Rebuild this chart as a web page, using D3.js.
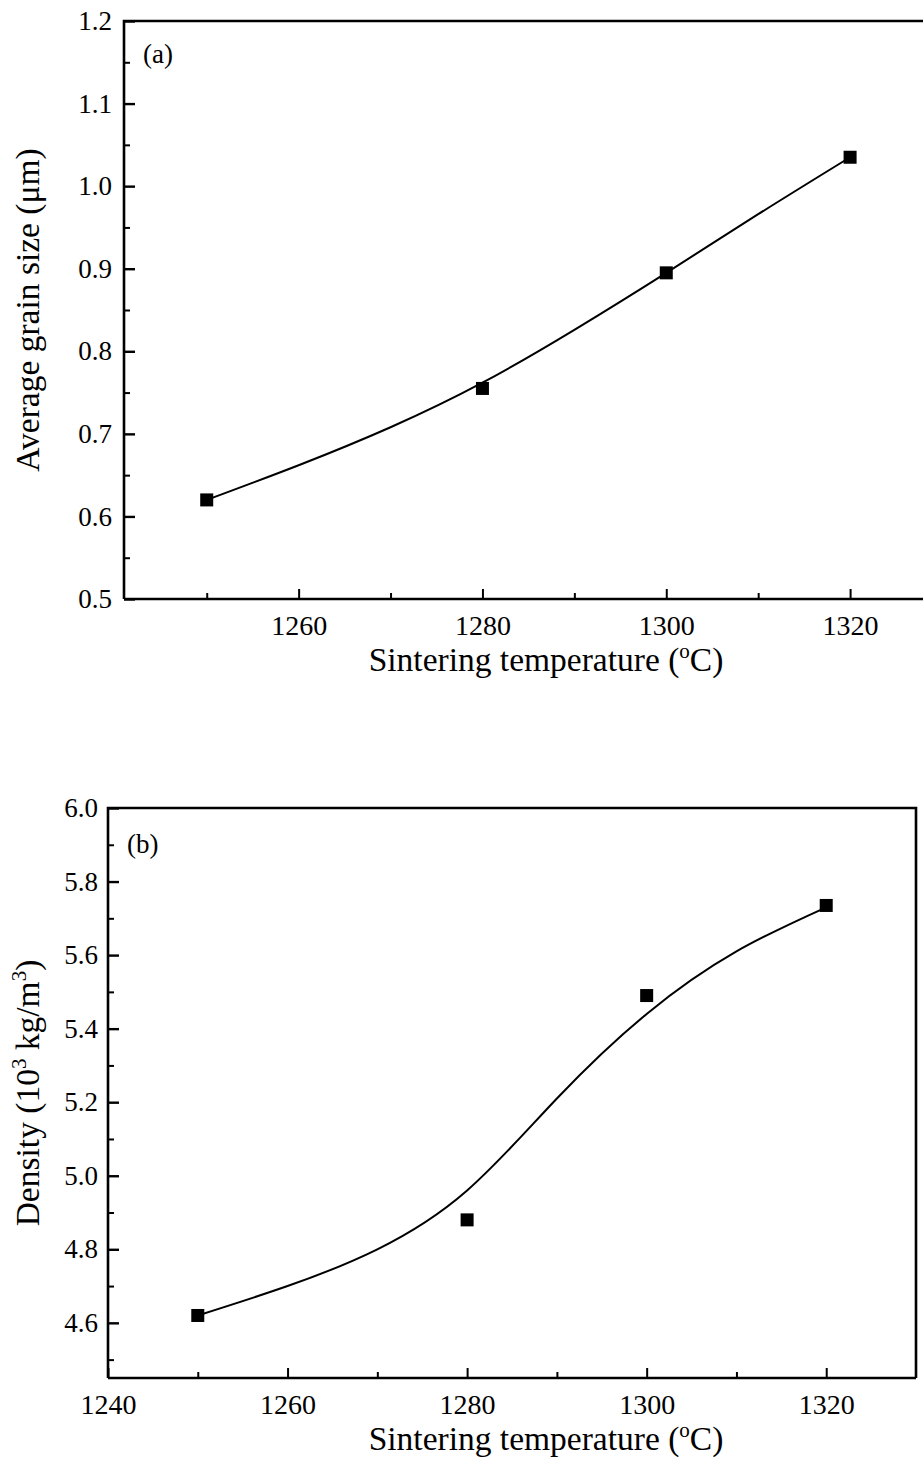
<!DOCTYPE html>
<html><head><meta charset="utf-8">
<script src="https://cdn.jsdelivr.net/npm/d3@7"></script>
<style>body{margin:0;background:#fff}svg{display:block}text{font-family:"Liberation Serif","Times New Roman",serif;fill:#000}</style>
</head><body><svg id="c" width="923" height="1468"></svg>
<script>
// Panel (a) data
const tempsA = [1250, 1280, 1300, 1320];
const grainSize = [0.62, 0.755, 0.895, 1.035];
const fitTempsA = [1250, 1260, 1270, 1280, 1290, 1300, 1310, 1320];
const fitGrain = [0.62, 0.662, 0.708, 0.762, 0.826, 0.895, 0.966, 1.035];
const xTicksA = [1260, 1280, 1300, 1320];
const xMinorA = [1250, 1270, 1290, 1310, 1330];
const yTicksA = [0.5, 0.6, 0.7, 0.8, 0.9, 1.0, 1.1, 1.2];
const yMinorA = [0.55, 0.65, 0.75, 0.85, 0.95, 1.05, 1.15];

// Panel (b) data
const tempsB = [1250, 1280, 1300, 1320];
const density = [4.62, 4.88, 5.49, 5.735];
const fitTempsB = [1250, 1260, 1270, 1280, 1290, 1300, 1310, 1320];
const fitDensity = [4.62, 4.70, 4.80, 4.96, 5.21, 5.44, 5.61, 5.73];
const xTicksB = [1240, 1260, 1280, 1300, 1320];
const xMinorB = [1250, 1270, 1290, 1310];
const yTicksB = [4.6, 4.8, 5.0, 5.2, 5.4, 5.6, 5.8, 6.0];
const yMinorB = [4.5, 4.7, 4.9, 5.1, 5.3, 5.5, 5.7, 5.9];

const svg = d3.select("#c");

function panel(o) {
  const g = svg.append("g");
  const x = d3.scaleLinear().domain(o.xDom).range(o.xRange);
  const y = d3.scaleLinear().domain(o.yDom).range(o.yRange);
  const [x0, x1] = o.xRange, [y0, y1] = o.yRange;
  // frame
  g.append("path").attr("d", `M${x0},${y0}L${x0},${y1}L${x1},${y1}` + (o.rightFrame ? `L${x1},${y0}` : "") + `M${x0},${y0}L${x1},${y0}`)
    .attr("fill", "none").attr("stroke", "#000").attr("stroke-width", 2.6);
  // bottom axis (inward ticks)
  const xAx = g.append("g").attr("transform", `translate(0,${y0})`)
    .call(d3.axisBottom(x).tickValues(o.xTicks).tickSize(-10).tickPadding(16).tickFormat(d3.format("d")));
  xAx.select(".domain").remove();
  xAx.selectAll("line").attr("stroke-width", 2);
  xAx.selectAll("text").attr("font-size", 28).attr("dy", "0.71em");
  const xMin = g.append("g").attr("transform", `translate(0,${y0})`)
    .call(d3.axisBottom(x).tickValues(o.xMinor.filter(v => x(v) <= 923)).tickSize(-6).tickFormat(""));
  xMin.select(".domain").remove();
  xMin.selectAll("line").attr("stroke-width", 2);
  // left axis
  const yAx = g.append("g").attr("transform", `translate(${x0},0)`)
    .call(d3.axisLeft(y).tickValues(o.yTicks).tickSize(-11).tickPadding(o.yPad).tickFormat(d3.format(".1f")));
  yAx.select(".domain").remove();
  yAx.selectAll("line").attr("stroke-width", 2.4);
  yAx.selectAll("text").attr("font-size", 27);
  const yMin = g.append("g").attr("transform", `translate(${x0},0)`)
    .call(d3.axisLeft(y).tickValues(o.yMinor).tickSize(-6).tickFormat(""));
  yMin.select(".domain").remove();
  yMin.selectAll("line").attr("stroke-width", 2);
  // fitted curve
  const line = d3.line().x((d, i) => x(o.fitX[i])).y(d => y(d)).curve(d3.curveNatural);
  g.append("path").datum(o.fitY).attr("d", line).attr("fill", "none").attr("stroke", "#000").attr("stroke-width", 2);
  // markers
  g.selectAll("rect.pt").data(o.vals).join("rect").attr("class", "pt")
    .attr("x", (d, i) => x(o.xs[i]) - 6.5).attr("y", d => y(d) - 6.5)
    .attr("width", 13).attr("height", 13).attr("fill", "#000");
  // panel tag
  g.append("text").attr("x", x0 + 19).attr("y", y1 + o.tagDy).attr("font-size", 27).text(o.tag);
  // x title
  const xt = g.append("text").attr("x", o.xTitleX).attr("y", y0 + 72).attr("text-anchor", "middle").attr("font-size", 33.5);
  xt.append("tspan").text("Sintering temperature (");
  xt.append("tspan").attr("font-size", 21).attr("dy", -13).text("o");
  xt.append("tspan").attr("dy", 13).text("C)");
  // y title
  const yt = g.append("text").attr("transform", `translate(${o.yTitleX},${(y0 + y1) / 2}) rotate(-90)`)
    .attr("text-anchor", "middle").attr("font-size", 33.5);
  o.yTitle(yt);
}

panel({
  xDom: [1241, 1330], xRange: [124, 942], yDom: [0.5, 1.2], yRange: [599, 21],
  xTicks: xTicksA, xMinor: xMinorA, yTicks: yTicksA, yMinor: yMinorA, yPad: 12,
  xs: tempsA, vals: grainSize, fitX: fitTempsA, fitY: fitGrain,
  tag: "(a)", tagDy: 42, rightFrame: false, xTitleX: 546, yTitleX: 39,
  yTitle: t => t.text("Average grain size (μm)")
});

panel({
  xDom: [1240, 1330], xRange: [108, 916], yDom: [4.45, 6.0], yRange: [1378, 808],
  xTicks: xTicksB, xMinor: xMinorB, yTicks: yTicksB, yMinor: yMinorB, yPad: 10,
  xs: tempsB, vals: density, fitX: fitTempsB, fitY: fitDensity,
  tag: "(b)", tagDy: 45, rightFrame: true, xTitleX: 546, yTitleX: 39,
  yTitle: t => {
    t.append("tspan").text("Density (10");
    t.append("tspan").attr("font-size", 21).attr("dy", -13).text("3");
    t.append("tspan").attr("dy", 13).text(" kg/m");
    t.append("tspan").attr("font-size", 21).attr("dy", -13).text("3");
    t.append("tspan").attr("dy", 13).text(")");
  }
});
</script></body></html>
